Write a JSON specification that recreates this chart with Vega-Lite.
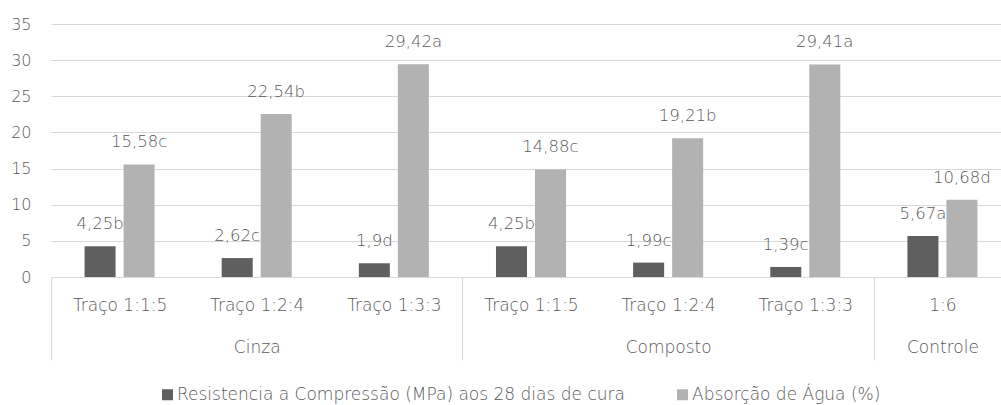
{
  "$schema": "https://vega.github.io/schema/vega-lite/v6.json",
  "width": 950,
  "height": 253,
  "autosize": {"type": "none"},
  "padding": {"left": 51, "top": 24, "right": 0, "bottom": 128},
  "background": "#ffffff",
  "config": {
    "view": {"stroke": null},
    "font": "DejaVu Sans",
    "axis": {"labelFont": "DejaVu Sans", "labelFontSize": 16, "labelColor": "#595959", "labelFontWeight": 200},
    "legend": {"labelFont": "DejaVu Sans", "labelFontSize": 17, "labelColor": "#595959", "labelFontWeight": 200}
  },
  "data": {
    "values": [
      {"categoria": "Cinza|Traço 1:1:5", "serie": "Resistencia a Compressão (MPa) aos 28 dias de cura", "valor": 4.25, "rotulo": "4,25b"},
      {"categoria": "Cinza|Traço 1:1:5", "serie": "Absorção de Água (%)", "valor": 15.58, "rotulo": "15,58c"},
      {"categoria": "Cinza|Traço 1:2:4", "serie": "Resistencia a Compressão (MPa) aos 28 dias de cura", "valor": 2.62, "rotulo": "2,62c"},
      {"categoria": "Cinza|Traço 1:2:4", "serie": "Absorção de Água (%)", "valor": 22.54, "rotulo": "22,54b"},
      {"categoria": "Cinza|Traço 1:3:3", "serie": "Resistencia a Compressão (MPa) aos 28 dias de cura", "valor": 1.9, "rotulo": "1,9d"},
      {"categoria": "Cinza|Traço 1:3:3", "serie": "Absorção de Água (%)", "valor": 29.42, "rotulo": "29,42a"},
      {"categoria": "Composto|Traço 1:1:5", "serie": "Resistencia a Compressão (MPa) aos 28 dias de cura", "valor": 4.25, "rotulo": "4,25b"},
      {"categoria": "Composto|Traço 1:1:5", "serie": "Absorção de Água (%)", "valor": 14.88, "rotulo": "14,88c"},
      {"categoria": "Composto|Traço 1:2:4", "serie": "Resistencia a Compressão (MPa) aos 28 dias de cura", "valor": 1.99, "rotulo": "1,99c"},
      {"categoria": "Composto|Traço 1:2:4", "serie": "Absorção de Água (%)", "valor": 19.21, "rotulo": "19,21b"},
      {"categoria": "Composto|Traço 1:3:3", "serie": "Resistencia a Compressão (MPa) aos 28 dias de cura", "valor": 1.39, "rotulo": "1,39c"},
      {"categoria": "Composto|Traço 1:3:3", "serie": "Absorção de Água (%)", "valor": 29.41, "rotulo": "29,41a"},
      {"categoria": "Controle|1:6", "serie": "Resistencia a Compressão (MPa) aos 28 dias de cura", "valor": 5.67, "rotulo": "5,67a"},
      {"categoria": "Controle|1:6", "serie": "Absorção de Água (%)", "valor": 10.68, "rotulo": "10,68d"}
    ]
  },
  "encoding": {
    "x": {
      "field": "categoria",
      "type": "nominal",
      "sort": null,
      "title": null,
      "scale": {"range": [0, 960], "paddingInner": 0, "paddingOuter": 0},
      "axis": {
        "domainColor": "#d9d9d9",
        "domainWidth": 1,
        "tickBand": "extent",
        "tickSize": 83,
        "tickWidth": 1,
        "tickColor": {
          "condition": {
            "test": "datum.extra || indexof(['Cinza|Traço 1:3:3', 'Composto|Traço 1:3:3'], datum.value) >= 0",
            "value": "#d9d9d9"
          },
          "value": "transparent"
        },
        "labelAngle": 0,
        "labelPadding": -63,
        "labelLineHeight": 42,
        "labelBaseline": "top",
        "labelFontSize": 17,
        "labelExpr": "indexof(['Cinza|Traço 1:2:4', 'Composto|Traço 1:2:4', 'Controle|1:6'], datum.value) >= 0 ? [split(datum.value, '|')[1], split(datum.value, '|')[0]] : split(datum.value, '|')[1]"
      }
    },
    "xOffset": {
      "field": "serie",
      "type": "nominal",
      "scale": {
        "domain": ["Resistencia a Compressão (MPa) aos 28 dias de cura", "Absorção de Água (%)"],
        "paddingInner": 0.205,
        "paddingOuter": 0.86
      }
    },
    "y": {
      "field": "valor",
      "type": "quantitative",
      "title": null,
      "scale": {"domain": [0, 35], "nice": false},
      "axis": {
        "values": [0, 5, 10, 15, 20, 25, 30, 35],
        "domain": false,
        "ticks": false,
        "labelPadding": 20,
        "gridColor": "#d9d9d9",
        "gridWidth": 1
      }
    }
  },
  "layer": [
    {
      "mark": {"type": "bar"},
      "encoding": {
        "color": {
          "field": "serie",
          "type": "nominal",
          "scale": {
            "domain": ["Resistencia a Compressão (MPa) aos 28 dias de cura", "Absorção de Água (%)"],
            "range": ["#5f5f5f", "#b2b2b2"]
          },
          "legend": {
            "title": null,
            "orient": "none",
            "direction": "horizontal",
            "legendX": 108,
            "legendY": 362,
            "symbolType": "square",
            "symbolSize": 121,
            "symbolStrokeWidth": 0,
            "labelOffset": 1,
            "labelLimit": 0,
            "columnPadding": 49
          }
        }
      }
    },
    {
      "mark": {"type": "text", "baseline": "alphabetic", "dy": -17, "fontSize": 16.5, "fontWeight": 200, "color": "#595959"},
      "encoding": {
        "text": {"field": "rotulo"}
      }
    }
  ]
}
